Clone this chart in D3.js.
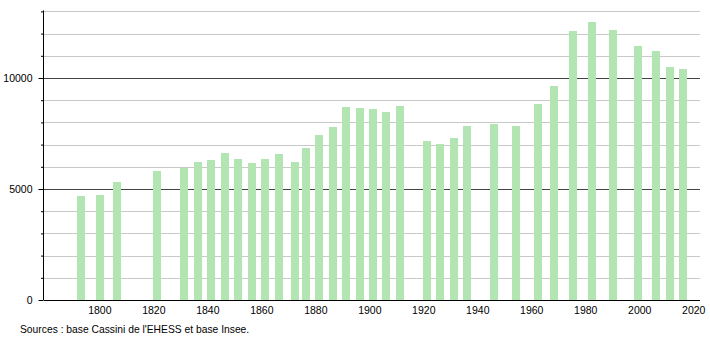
<!DOCTYPE html>
<html>
<head>
<meta charset="utf-8">
<script src="https://cdn.jsdelivr.net/npm/d3@7"></script>
<style>
  body { margin: 0; background: #fff; }
  text { font-family: "Liberation Sans", Arial, sans-serif; }
</style>
</head>
<body>
<div id="chart"></div>
<script>
// census years and population
var years = [1793, 1800, 1806, 1821, 1831, 1836, 1841, 1846, 1851, 1856,
    1861, 1866, 1872, 1876, 1881, 1886, 1891, 1896, 1901, 1906,
    1911, 1921, 1926, 1931, 1936, 1946, 1954, 1962, 1968, 1975,
    1982, 1990, 1999, 2006, 2011, 2016];
var population = [4685, 4730, 5315, 5811, 5946, 6216, 6306, 6622, 6351, 6171,
    6351, 6577, 6216, 6847, 7432, 7793, 8694, 8649, 8604, 8468,
    8739, 7162, 7027, 7297, 7838, 7928, 7838, 8829, 9640, 12117,
    12523, 12162, 11441, 11216, 10495, 10405];
var xTicks = [1800, 1820, 1840, 1860, 1880, 1900, 1920, 1940, 1960, 1980, 2000, 2020];
var yLabels = [0, 5000, 10000];
var source = "Sources : base Cassini de l'EHESS et base Insee.";

var width = 710, height = 340;
var plotLeft = 44, plotRight = 700, plotTop = 11.4, plotBottom = 300;

var svg = d3.select("#chart").append("svg")
    .attr("width", width)
    .attr("height", height);

var x = d3.scaleLinear().domain([1779.5, 2022.5]).range([plotLeft, plotRight]);
var y = d3.scaleLinear().domain([0, 13000]).range([plotBottom, plotTop]);

// grid lines, every 1000 (5000s darker)
var gridVals = d3.range(1000, 13001, 1000);
svg.append("g")
    .selectAll("line")
    .data(gridVals)
    .enter().append("line")
    .attr("x1", plotLeft)
    .attr("x2", plotRight)
    .attr("y1", (d) => Math.round(y(d)) + 0.5)
    .attr("y2", (d) => Math.round(y(d)) + 0.5)
    .attr("stroke", (d) => d % 5000 === 0 ? "#444" : "#c8c8c8")
    .attr("stroke-width", 1);

// bars
var barW = 8;
svg.append("g")
    .selectAll("rect")
    .data(years)
    .enter().append("rect")
    .attr("x", (d) => Math.round(x(d) - barW / 2 + 1))
    .attr("y", (d, i) => y(population[i]))
    .attr("width", barW)
    .attr("height", (d, i) => plotBottom - y(population[i]))
    .attr("fill", "#b3e5b3");

// y axis
var yAxis = d3.axisLeft(y)
    .tickValues(d3.range(0, 13001, 1000))
    .tickSize(0)
    .tickFormat("");
var ya = svg.append("g")
    .attr("transform", "translate(" + (plotLeft - 0.5) + ",0)")
    .call(yAxis);
ya.select(".domain").attr("stroke", "#000").attr("d", "M0," + (plotTop - 1) + "V" + plotBottom);
ya.selectAll(".tick line")
    .attr("stroke", "#000")
    .attr("x2", (d) => d % 5000 === 0 ? -5 : -2.5);
ya.selectAll(".tick")
    .filter((d) => yLabels.indexOf(d) >= 0)
    .append("text")
    .attr("x", -11)
    .attr("dy", "0.35em")
    .attr("text-anchor", "end")
    .attr("fill", "#000")
    .style("font-size", "10.5px")
    .text((d) => d);

// x axis
var xAxis = d3.axisBottom(x)
    .tickValues(xTicks)
    .tickSize(0)
    .tickPadding(6)
    .tickFormat(d3.format("d"));
var xa = svg.append("g")
    .attr("transform", "translate(0," + (plotBottom + 0.5) + ")")
    .call(xAxis);
xa.select(".domain").attr("stroke", "#000").attr("d", "M" + plotLeft + ",0H" + plotRight);
xa.selectAll("text")
    .attr("fill", "#000")
    .style("font-size", "10.5px")
    .style("font-family", "'Liberation Sans', Arial, sans-serif");

// source note
svg.append("text")
    .attr("x", 20)
    .attr("y", 333)
    .style("font-size", "10.3px")
    .attr("fill", "#000")
    .text(source);
</script>
</body>
</html>
